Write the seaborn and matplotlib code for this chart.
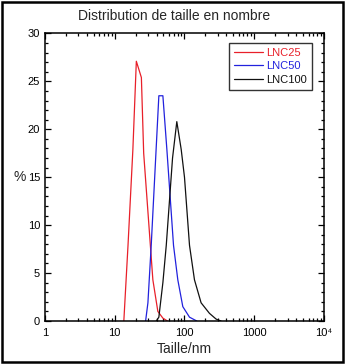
import numpy as np
import pandas as pd
import matplotlib
matplotlib.use('Agg')
import matplotlib.pyplot as plt
import matplotlib.ticker as mticker
from matplotlib.patches import Rectangle
import seaborn as sns

sns.set_style("ticks")
plt.rcParams['font.family'] = ['Liberation Sans', 'DejaVu Sans']

# Size distributions by number (size in nm, %)
lnc25_size = [13.5, 15.5, 18.2, 20.4, 24.1, 26.0, 35.2, 41.5, 49.0, 57.0]
lnc25_pct = [0, 7.9, 17.9, 27.1, 25.4, 17.5, 4.3, 1.0, 0.3, 0]

lnc50_size = [27.7, 29.9, 33.4, 42.9, 49.0, 55.9, 69.6, 80.2, 94.6, 118, 150]
lnc50_pct = [0, 1.9, 8.0, 23.5, 23.5, 17.9, 7.9, 4.3, 1.5, 0.4, 0]

lnc100_size = [39.4, 42.9, 49.0, 54.8, 67.4, 77.6, 89.7, 100, 118, 139, 173, 228, 284, 334]
lnc100_pct = [0, 0.4, 4.0, 7.9, 17.0, 20.8, 17.9, 15.0, 7.9, 4.3, 1.9, 0.8, 0.2, 0]

series_names = ['LNC25', 'LNC50', 'LNC100']
series_colors = ['#e8202a', '#2222dd', '#111111']

xtick_vals = [1, 10, 100, 1000, 10000]
xtick_labels = ['1', '10', '100', '1000', '10\u2074']

# Build long table for seaborn
frames = []
for name, s, p in zip(series_names,
                      [lnc25_size, lnc50_size, lnc100_size],
                      [lnc25_pct, lnc50_pct, lnc100_pct]):
    frames.append(pd.DataFrame({'size': s, 'pct': p, 'sample': name}))
df = pd.concat(frames, ignore_index=True)

fig = plt.figure(figsize=(3.45, 3.64), dpi=100)
ax = fig.add_axes([0.1304, 0.1181, 0.8087, 0.790])

sns.lineplot(data=df, x='size', y='pct', hue='sample', palette=series_colors,
             hue_order=series_names, sort=False, estimator=None,
             linewidth=0.9, ax=ax)

ax.set_xscale('log')
ax.set_xlim(1, 10000)
ax.set_ylim(0, 30)

ax.xaxis.set_major_locator(mticker.FixedLocator(xtick_vals))
ax.xaxis.set_major_formatter(mticker.FixedFormatter(xtick_labels))
ax.xaxis.set_minor_locator(mticker.LogLocator(base=10, subs=np.arange(2, 10)))
ax.xaxis.set_minor_formatter(mticker.NullFormatter())
ax.yaxis.set_major_locator(mticker.MultipleLocator(5))
ax.yaxis.set_minor_locator(mticker.MultipleLocator(1))

ax.tick_params(which='both', direction='in', top=True, right=True,
               labelsize=8, width=0.9, colors='black')
ax.tick_params(which='major', length=4)
ax.tick_params(axis='x', which='major', pad=5)
ax.tick_params(which='minor', length=2.5)
for sp in ax.spines.values():
    sp.set_linewidth(1.1)
    sp.set_color('black')

ax.set_xlabel('Taille/nm', fontsize=10, labelpad=3)
ax.set_ylabel('%', fontsize=10, rotation=0, ha='center', va='center')
ax.yaxis.set_label_coords(-0.09, 0.5)

fig.text(0.505, 0.955, 'Distribution de taille en nombre', ha='center',
         va='center', fontsize=10)

leg = ax.legend(loc='upper right', bbox_to_anchor=(0.957, 0.967), fontsize=8,
                frameon=True, fancybox=False, handlelength=2.6,
                handletextpad=0.3, borderpad=0.45, labelspacing=0.3,
                borderaxespad=0)
leg.get_frame().set_edgecolor('black')
leg.get_frame().set_linewidth(1.0)
for txt, c in zip(leg.get_texts(), series_colors):
    txt.set_color(c)

fig.patches.append(Rectangle((0.006, 0.006), 0.988, 0.988, transform=fig.transFigure,
                             fill=False, edgecolor='black', linewidth=1.8))

fig.savefig('out.png', dpi=100)
